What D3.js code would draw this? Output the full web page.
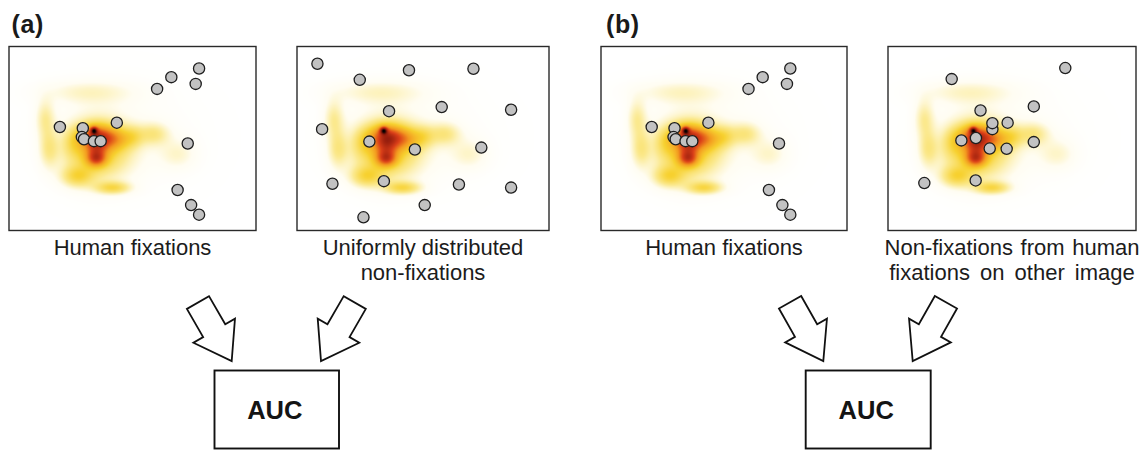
<!DOCTYPE html>
<html>
<head>
<meta charset="utf-8">
<script src="https://cdn.jsdelivr.net/npm/d3@7"></script>
<style>
  html, body { margin: 0; padding: 0; background: #fff; }
  svg { display: block; font-family: "Liberation Sans", Arial, Helvetica, sans-serif; }
</style>
</head>
<body>
<svg id="fig" width="1148" height="450"></svg>
<script>
// Stimulus image coordinate system (pixels)
const IMG_W = 1024, IMG_H = 768;

// Fixations recorded on this image
const humanFixations = [
  [788, 92], [673, 128], [774, 156], [614, 177],
  [211, 336], [306, 341], [447, 318],
  [302, 378], [311, 387], [352, 395], [380, 395],
  [741, 405], [699, 599], [755, 662], [788, 702]
];

// Non-fixations drawn uniformly over the image
const uniformNonFixations = [
  [83, 72], [255, 139], [455, 99], [717, 93],
  [374, 270], [588, 253], [870, 264],
  [102, 345], [294, 397], [479, 430], [749, 422],
  [144, 573], [353, 562], [658, 576], [870, 589],
  [519, 662], [270, 713]
];

// Non-fixations taken from fixations on another image
const otherImageFixations = [
  [732, 90], [263, 136], [382, 267], [602, 250],
  [431, 345], [431, 320], [494, 318],
  [303, 392], [363, 382], [420, 426], [490, 427], [602, 399],
  [150, 570], [362, 559]
];

// Saliency map components: [cx, cy, sigmaX, sigmaY, weight]
const saliencyBlobs = [
  [352, 350, 11, 11, 0.5],
  [362, 372, 44, 32, 0.45],
  [362, 425, 34, 35, 0.3],
  [362, 470, 28, 22, 0.38],
  [440, 385, 40, 32, 0.26],
  [365, 430, 95, 85, 0.27],
  [270, 400, 30, 40, 0.1],
  [150, 300, 28, 55, 0.13],
  [165, 430, 28, 55, 0.13],
  [282, 543, 45, 30, 0.2],
  [430, 590, 50, 18, 0.22],
  [514, 376, 30, 30, 0.12],
  [600, 365, 45, 32, 0.14],
  [700, 450, 55, 45, 0.08],
  [330, 190, 140, 35, 0.09],
  [450, 380, 210, 150, 0.045]
];

const panelLabels = ["(a)", "(b)"];
const captions = [
  ["Human fixations"],
  ["Uniformly distributed", "non-fixations"],
  ["Human fixations"],
  ["Non-fixations from human", "fixations on other image"]
];
const panelPoints = [humanFixations, uniformNonFixations, humanFixations, otherImageFixations];
const resultLabel = "AUC";

// ---- layout ----
const panels = [
  { x: 9,   w: 247 },
  { x: 297, w: 252 },
  { x: 601, w: 246 },
  { x: 888, w: 248 }
];
const panelTop = 46.5, panelH = 184;
const captionWordSpacing = [[0], [0, 0], [0], [1.5, 4]];
const groups = [
  { label: [11.5, 33], arrows: [[231.7, 361, 60], [321, 361, 120]], box: [214.5, 339] },
  { label: [606, 33], arrows: [[823.3, 361, 60.5], [912.7, 361, 119.5]], box: [805.7, 930.7] }
];

const svg = d3.select("#fig");

// ---- saliency heat map rendered to an image ----
const heatColor = d3.scaleLinear()
  .domain([0, 0.06, 0.16, 0.3, 0.5, 0.7, 0.92, 1.1])
  .range(["#ffffff", "#fffdf2", "#fbe98e", "#f7d12f", "#f39a20", "#db3f19", "#8e1a0c", "#000000"])
  .clamp(true);

function density(x, y) {
  let s = 0;
  for (const [cx, cy, sx, sy, w] of saliencyBlobs) {
    const dx = (x - cx) / sx, dy = (y - cy) / sy;
    s += w * Math.exp(-0.5 * (dx * dx + dy * dy));
  }
  return s;
}

const step = 4;
const cw = IMG_W / step, ch = IMG_H / step;
const canvas = document.createElement("canvas");
canvas.width = cw; canvas.height = ch;
const ctx = canvas.getContext("2d");
const imgData = ctx.createImageData(cw, ch);
for (let j = 0; j < ch; j++) {
  for (let i = 0; i < cw; i++) {
    const c = d3.rgb(heatColor(density(i * step + step / 2, j * step + step / 2)));
    const k = (j * cw + i) * 4;
    imgData.data[k] = c.r; imgData.data[k + 1] = c.g; imgData.data[k + 2] = c.b; imgData.data[k + 3] = 255;
  }
}
ctx.putImageData(imgData, 0, 0);
const heatURL = canvas.toDataURL();

// ---- panels ----
panels.forEach((p, idx) => {
  const xs = d3.scaleLinear().domain([0, IMG_W]).range([p.x, p.x + p.w]);
  const ys = d3.scaleLinear().domain([0, IMG_H]).range([panelTop, panelTop + panelH]);
  const g = svg.append("g");

  g.append("image")
    .attr("href", heatURL)
    .attr("x", xs(0)).attr("y", ys(0))
    .attr("width", xs(IMG_W) - xs(0)).attr("height", ys(IMG_H) - ys(0))
    .attr("preserveAspectRatio", "none");

  g.append("rect")
    .attr("x", xs(0)).attr("y", ys(0))
    .attr("width", xs(IMG_W) - xs(0)).attr("height", ys(IMG_H) - ys(0))
    .attr("fill", "none").attr("stroke", "#2a2a2a").attr("stroke-width", 1.4);

  g.selectAll("circle").data(panelPoints[idx]).join("circle")
    .attr("cx", d => xs(d[0])).attr("cy", d => ys(d[1]))
    .attr("r", 5.6)
    .attr("fill", "#c2c2c2").attr("stroke", "#1e1e1e").attr("stroke-width", 1.3);

  const cx = p.x + p.w / 2;
  captions[idx].forEach((line, li) => {
    svg.append("text")
      .attr("x", cx).attr("y", 255 + li * 25)
      .attr("text-anchor", "middle")
      .attr("font-size", 22)
      .attr("word-spacing", captionWordSpacing[idx][li])
      .attr("fill", "#1c1c1c")
      .text(line);
  });
});

// ---- block arrows and AUC boxes ----
const L = 67.5, headLen = 35, headW = 48, shaftW = 25.5;
const arrowShape = [
  [-L, -shaftW / 2], [-headLen, -shaftW / 2], [-headLen, -headW / 2], [0, 0],
  [-headLen, headW / 2], [-headLen, shaftW / 2], [-L, shaftW / 2]
];
const arrowPath = d3.line().curve(d3.curveLinearClosed);

groups.forEach((gr, gi) => {
  svg.append("text")
    .attr("x", gr.label[0]).attr("y", gr.label[1])
    .attr("font-size", 25).attr("font-weight", "bold")
    .attr("letter-spacing", 0.6)
    .attr("fill", "#1a1a1a")
    .text(panelLabels[gi]);

  gr.arrows.forEach(([tx, ty, ang]) => {
    svg.append("path")
      .attr("d", arrowPath(arrowShape))
      .attr("transform", `translate(${tx},${ty}) rotate(${ang})`)
      .attr("fill", "#fff").attr("stroke", "#111").attr("stroke-width", 1.8)
      .attr("stroke-linejoin", "miter");
  });

  const [bx0, bx1] = gr.box;
  svg.append("rect")
    .attr("x", bx0).attr("y", 370.5)
    .attr("width", bx1 - bx0).attr("height", 78)
    .attr("fill", "#fff").attr("stroke", "#111").attr("stroke-width", 1.9);
  svg.append("text")
    .attr("x", (bx0 + bx1) / 2 - 2).attr("y", 418.5)
    .attr("text-anchor", "middle")
    .attr("font-size", 25.5).attr("font-weight", "bold")
    .attr("fill", "#141414")
    .text(resultLabel);
});
</script>
</body>
</html>
